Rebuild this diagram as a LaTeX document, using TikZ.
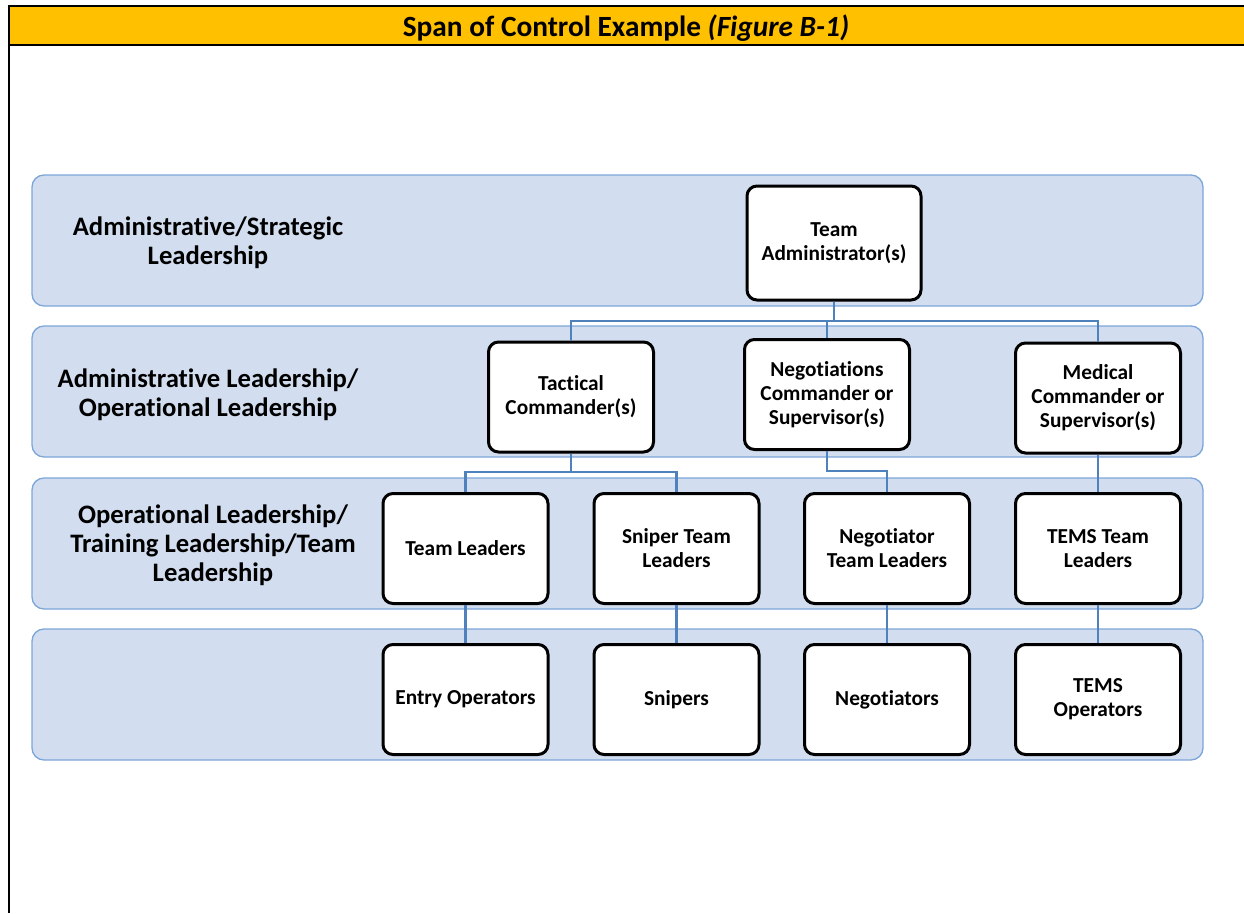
\documentclass[tikz,border=0pt]{standalone}
\usepackage{fontspec}
\setmainfont{Carlito}[Ligatures=CommonOff]
\definecolor{hdr}{RGB}{255,192,0}
\definecolor{bandfill}{RGB}{210,222,239}
\definecolor{banddraw}{RGB}{125,166,216}
\definecolor{conncol}{RGB}{79,129,189}
\begin{document}
\begin{tikzpicture}[x=0.75pt,y=-0.75pt,
  band/.style={draw=banddraw,fill=bandfill,line width=1pt,rounded corners=9pt,minimum width=878.25pt,minimum height=98.25pt,inner sep=0pt},
  box/.style={draw=black,fill=white,line width=2.25pt,rounded corners=7.5pt,minimum width=123.75pt,minimum height=82.5pt,align=center,inner sep=0pt,font=\fontsize{16}{18}\selectfont\bfseries},
  lbl/.style={align=center,font=\fontsize{20}{21.75}\selectfont\bfseries},
  conn/.style={draw=conncol,line width=2.1pt}]
\useasboundingbox (0,0) rectangle (1244,913);
% header
\fill[hdr] (8,6) rectangle (1244,45);
\draw[line width=2.2pt] (8,6) -- (1244,6);
\draw[line width=2.2pt] (8,45) -- (1244,45);
\draw[line width=2.2pt] (9,5) -- (9,913);
\node[font=\fontsize{22}{24}\selectfont\bfseries] (title) at (626,28) {Span of Control Example \textit{(Figure B-1)}};
% bands
\node[band] (b1) at (617.5,240.5) {};
\node[band] (b2) at (617.5,391.5) {};
\node[band] (b3) at (617.5,543.5) {};
\node[band] (b4) at (617.5,694.5) {};
% band labels
\node[lbl] (l1) at (208,243) {Administrative/Strategic\\Leadership};
\node[lbl] (l2) at (208,395) {Administrative Leadership/\\Operational Leadership};
\node[lbl] (l3) at (213,545) {Operational Leadership/\\Training Leadership/Team\\Leadership};
% boxes
\node[box,minimum width=130.5pt,minimum height=85.5pt] (ta) at (834,243) {Team\\Administrator(s)};
\node[box] (tc) at (571,397) {Tactical\\Commander(s)};
\node[box] (nc) at (827,394.5) {Negotiations\\Commander or\\Supervisor(s)};
\node[box] (mc) at (1098,398) {Medical\\Commander or\\Supervisor(s)};
\node[box] (tl) at (465.5,548.5) {Team Leaders};
\node[box] (stl) at (676.5,548.5) {Sniper Team\\Leaders};
\node[box] (ntl) at (887,548.5) {Negotiator\\Team Leaders};
\node[box] (ttl) at (1098,548.5) {TEMS Team\\Leaders};
\node[box] (eo) at (465.5,699.5) {Entry Operators};
\node[box] (sn) at (676.5,699.5) {Snipers};
\node[box] (ng) at (887,699.5) {Negotiators};
\node[box] (to) at (1098,699.5) {TEMS\\Operators};
% connectors
\coordinate (j1) at (834,321);
\coordinate (j2) at (571,472);
\coordinate (j3) at (827,471);
\draw[conn] (ta.south) -- (j1);
\draw[conn] (tc.north) |- (j1) -| (mc.north);
\draw[conn] (nc.north) -- (nc.north |- j1);
\draw[conn] (tc.south) -- (j2);
\draw[conn] (tl.north) |- (j2) -| (stl.north);
\draw[conn] (nc.south) -- (j3) -| (ntl.north);
\draw[conn] (mc.south) -- (ttl.north);
\draw[conn] (tl.south) -- (eo.north);
\draw[conn] (stl.south) -- (sn.north);
\draw[conn] (ntl.south) -- (ng.north);
\draw[conn] (ttl.south) -- (to.north);
\end{tikzpicture}
\end{document}
